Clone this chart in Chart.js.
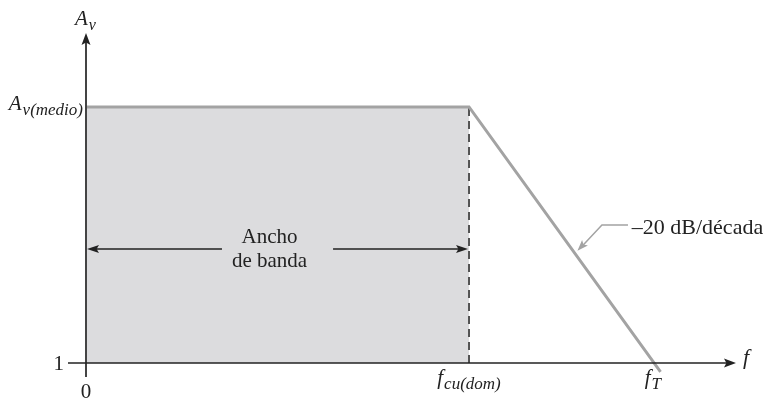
<!DOCTYPE html>
<html>
<head>
<meta charset="utf-8">
<script src="https://cdn.jsdelivr.net/npm/chart.js@4.4.1/dist/chart.umd.min.js"></script>
<style>
  body { margin: 0; background: #fff; }
  #wrap { width: 766px; height: 402px; position: relative; }
</style>
</head>
<body>
<div id="wrap"><canvas id="bandwidth"></canvas></div>
<script>
// frequency response (arbitrary units: f_cu = 100, A_v(medio) = 100, gain 1 -> 0)
const responseX = [0, 100, 150];
const responseY = [100, 100, -3.5];
const bandX = [0, 100];
const bandY = [100, 100];
const cutoffX = [100, 100];
const cutoffY = [0, 100];

// tick labels: [value, main, subscript, italic]
const xTicks = [[0, '0', '', false], [100, 'f', 'cu(dom)', true], [148, 'f', 'T', true]];
const yTicks = [[0, '1', '', false], [100, 'A', 'v(medio)', true]];

const xRange = [-4.7, 169.7];
const yRange = [-5.5, 128.1];

const SERIF = '"Liberation Serif", "DejaVu Serif", serif';

function richLabel(c, x, y, main, sub, italic, align, size, subSize) {
  const st = italic ? 'italic ' : '';
  c.font = st + size + 'px ' + SERIF;
  const w1 = c.measureText(main).width;
  c.font = 'italic ' + subSize + 'px ' + SERIF;
  const w2 = sub ? c.measureText(sub).width + 1 : 0;
  let x0 = x;
  if (align === 'center') x0 = x - (w1 + w2) / 2;
  if (align === 'right') x0 = x - (w1 + w2);
  c.textAlign = 'left';
  c.textBaseline = 'alphabetic';
  c.font = st + size + 'px ' + SERIF;
  c.fillText(main, x0, y);
  if (sub) {
    c.font = 'italic ' + subSize + 'px ' + SERIF;
    c.fillText(sub, x0 + w1 + 1, y + 5);
  }
}

function arrowHead(c, x, y, ang, len, half, color) {
  c.save();
  c.translate(x, y);
  c.rotate(ang);
  c.fillStyle = color;
  c.beginPath();
  c.moveTo(0, 0);
  c.lineTo(-len, -half);
  c.lineTo(-len * 0.8, 0);
  c.lineTo(-len, half);
  c.closePath();
  c.fill();
  c.restore();
}

const diagram = {
  id: 'diagram',
  afterDatasetsDraw(chart) {
    const c = chart.ctx;
    const xs = chart.scales.x, ys = chart.scales.y;
    const px = v => xs.getPixelForValue(v);
    const py = v => ys.getPixelForValue(v);
    c.save();

    // y axis
    c.strokeStyle = '#444';
    c.lineWidth = 2;
    c.beginPath();
    c.moveTo(px(0), py(yRange[0]));
    c.lineTo(px(0), py(yRange[1]) + 6);
    c.stroke();
    arrowHead(c, px(0), py(yRange[1]) - 2, -Math.PI / 2, 12, 4.5, '#222');

    // x axis
    c.strokeStyle = '#222';
    c.lineWidth = 1.5;
    c.beginPath();
    c.moveTo(px(xRange[0]), py(0));
    c.lineTo(px(xRange[1]) - 6, py(0));
    c.stroke();
    arrowHead(c, px(xRange[1]), py(0), 0, 12, 4.5, '#222');

    c.fillStyle = '#222';
    // axis titles
    richLabel(c, 75, 25, 'A', 'v', true, 'left', 21, 16);
    c.font = 'italic 22px ' + SERIF;
    c.textAlign = 'left';
    c.fillText('f', px(xRange[1]) + 7, py(0) + 1);

    // tick labels
    xTicks.forEach(([v, m, s, it]) => {
      if (v === 0) {
        c.font = '21px ' + SERIF;
        c.textAlign = 'center';
        c.fillText(m, px(v), py(0) + 35);
      } else {
        richLabel(c, px(v), py(0) + 21, m, s, it, 'center', 21, 17);
      }
    });
    yTicks.forEach(([v, m, s, it]) => {
      if (v === 0) {
        c.font = '21px ' + SERIF;
        c.textAlign = 'right';
        c.fillText(m, px(0) - 22, py(0) + 7);
      } else {
        richLabel(c, px(0) - 3, py(v) + 3, m, s, it, 'right', 21, 17);
      }
    });

    // bandwidth arrows
    const by = py(44.5);
    c.strokeStyle = '#222';
    c.lineWidth = 1.5;
    c.beginPath();
    c.moveTo(px(0) + 8, by); c.lineTo(px(35.5), by);
    c.moveTo(px(64.5), by); c.lineTo(px(100) - 8, by);
    c.stroke();
    arrowHead(c, px(0) + 1, by, Math.PI, 12, 4, '#222');
    arrowHead(c, px(100) - 1, by, 0, 12, 4, '#222');
    c.font = '21px ' + SERIF;
    c.textAlign = 'center';
    c.fillText('Ancho', px(50) - 8, by - 6);
    c.fillText('de banda', px(50) - 8, by + 18);

    // slope annotation
    c.strokeStyle = '#a3a3a3';
    c.lineWidth = 1.5;
    c.beginPath();
    c.moveTo(px(141.5), py(53.9));
    c.lineTo(px(134.7), py(53.9));
    c.lineTo(px(129.5), py(45.6));
    c.stroke();
    const ang = Math.atan2(py(44.1) - py(53.9), px(128.5) - px(134.7));
    arrowHead(c, px(128.3), py(43.8), ang, 11, 4, '#a3a3a3');
    c.fillStyle = '#222';
    c.textAlign = 'left';
    c.font = '22px ' + SERIF;
    c.fillText('\u201320 dB/d\u00e9cada', px(142.5), py(50.4));

    c.restore();
  }
};

new Chart(document.getElementById('bandwidth'), {
  type: 'scatter',
  data: {
    datasets: [
      {
        label: 'band',
        data: bandX.map((x, i) => ({ x, y: bandY[i] })),
        showLine: true,
        fill: 'origin',
        backgroundColor: '#dcdcde',
        borderWidth: 0,
        pointRadius: 0,
        order: 3
      },
      {
        label: 'cutoff',
        data: cutoffX.map((x, i) => ({ x, y: cutoffY[i] })),
        showLine: true,
        borderColor: '#222',
        borderWidth: 1.5,
        borderDash: [8, 5],
        pointRadius: 0,
        order: 2
      },
      {
        label: 'response',
        data: responseX.map((x, i) => ({ x, y: responseY[i] })),
        showLine: true,
        borderColor: '#a3a3a3',
        borderWidth: 3,
        pointRadius: 0,
        order: 1
      }
    ]
  },
  options: {
    responsive: true,
    maintainAspectRatio: false,
    animation: false,
    layout: { padding: { left: 68, right: 30, top: 35, bottom: 25 } },
    plugins: { legend: { display: false }, tooltip: { enabled: false } },
    scales: {
      x: { type: 'linear', min: xRange[0], max: xRange[1], display: false },
      y: { type: 'linear', min: yRange[0], max: yRange[1], display: false }
    }
  },
  plugins: [diagram]
});
</script>
</body>
</html>
